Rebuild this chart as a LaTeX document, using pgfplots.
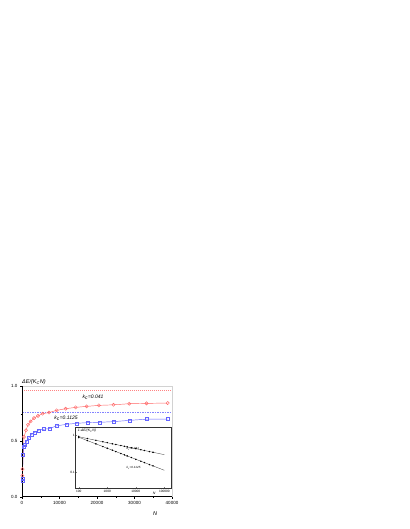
\documentclass[border=0pt]{standalone}
\usepackage{pgfplots}
\pgfplotsset{compat=1.18}
\usepackage{fontspec}
\setmainfont{Liberation Sans}
\definecolor{cred}{RGB}{255,100,100}
\definecolor{cblue}{RGB}{100,100,255}
\newcommand{\fs}[1]{\fontsize{#1}{#1}\selectfont}

\begin{document}
\begin{tikzpicture}
\useasboundingbox (0,0) rectangle (409pt,529pt);
% main panel
\begin{axis}[
  at={(22pt,32.3pt)}, anchor=south west,
  scale only axis, width=150pt, height=110.7pt,
  xmin=0, xmax=40000, ymin=0, ymax=1,
  axis line style={gray!35, line width=0.4pt},
  xtick={0,10000,20000,30000,40000}, ytick={0,0.5,1},
  minor x tick num=1, minor y tick num=1,
  tick align=outside, xtick pos=left, ytick pos=left,
  major tick length=2pt, minor tick length=1.2pt,
  tick style={black, line width=0.3pt},
  scaled ticks=false,
  /pgf/number format/assume math mode=true,
  xticklabel style={font=\fs{4.5}, /pgf/number format/set thousands separator={}},
  yticklabel style={font=\fs{4.5}, /pgf/number format/fixed,
    /pgf/number format/fixed zerofill, /pgf/number format/precision=1},
  xticklabel shift=-1pt, yticklabel shift=-1pt,
  clip=false,
]
\addplot[draw=cblue!80, dash pattern=on 1.5pt off 1pt, line width=0.5pt] coordinates {(0,0.759) (40000,0.759)};
\addplot[draw=cred!80, dash pattern=on 1pt off 1pt, line width=0.6pt] coordinates {(0,0.957) (40000,0.957)};
\addplot[color=cred, line width=0.45pt, mark=o, mark size=1.6pt] coordinates {
 (100,0.19) (150,0.25) (530,0.54) (1070,0.60) (1600,0.65) (2300,0.68)
 (3200,0.71) (4270,0.73) (5500,0.75) (7200,0.76) (9240,0.78) (11640,0.795)
 (14300,0.807) (17250,0.816) (20500,0.825) (24400,0.83) (28600,0.84)
 (33200,0.843) (38850,0.846)};
\addplot[color=cblue, line width=0.45pt, mark=square, mark size=1.5pt] coordinates {
 (100,0.14) (150,0.16) (250,0.376) (450,0.45) (800,0.467) (1240,0.50)
 (1780,0.53) (2500,0.56) (3400,0.58) (4360,0.60) (5870,0.61) (7290,0.615)
 (9240,0.64) (11900,0.654) (14580,0.663) (17400,0.669) (20600,0.672)
 (24400,0.678) (28800,0.69) (33200,0.70) (38850,0.70)};
\draw[black, line width=0.5pt] (rel axis cs:0,1) -- (rel axis cs:0,0) -- (rel axis cs:1,0);
\node[font=\fs{5}\itshape] at (axis cs:18930,0.90) {k\textsubscript{c}=0.041};
\node[font=\fs{5}\itshape] at (axis cs:11730,0.711) {k\textsubscript{c}=0.1125};
\node[anchor=south west, font=\fs{5.5}\itshape, inner sep=0pt] at ([yshift=1.5pt]rel axis cs:0,1) {ΔE/(K\textsubscript{C}N)};
\node[font=\fs{5.5}\itshape] at ([yshift=-17pt]rel axis cs:0.887,0) {N};
\end{axis}
% inset
\begin{axis}[
  at={(75.3pt,40.3pt)}, anchor=south west,
  scale only axis, width=96pt, height=61pt,
  xmode=log, ymode=log,
  xmin=76, xmax=175000, ymin=0.035, ymax=1.6,
  axis background/.style={fill=white},
  axis line style={black!80, line width=0.4pt},
  xtick={100,1000,10000,100000}, xticklabels={100,1000,10000,100000},
  ytick={0.1,1}, yticklabels={0.1,1},
  major tick length=1.5pt, minor tick length=0.8pt,
  tick style={line width=0.25pt},
  xtick pos=left, ytick pos=left,
  xticklabel style={font=\fs{3.2}}, yticklabel style={font=\fs{3.2}},
  xticklabel shift=-2pt, yticklabel shift=-3pt,
  clip=false,
]
\addplot[black!80, line width=0.3pt] coordinates {(100,0.91) (100000,0.295)};
\addplot[black!80, line width=0.3pt] coordinates {(100,0.88) (100000,0.111)};
\addplot[only marks, mark=*, mark size=0.5pt, black] coordinates {
 (100,0.93) (200,0.813) (400,0.726) (700,0.663) (1000,0.625) (1500,0.585)
 (2000,0.559) (3000,0.523) (4000,0.499) (5000,0.481) (7000,0.455)
 (10000,0.429) (15000,0.402) (20000,0.384) (30000,0.359) (40000,0.343)};
\addplot[only marks, mark=*, mark size=0.5pt, black] coordinates {
 (100,0.86) (200,0.715) (400,0.581) (700,0.491) (1000,0.441) (1500,0.391)
 (2000,0.358) (3000,0.317) (4000,0.291) (5000,0.272) (7000,0.246)
 (10000,0.221) (15000,0.196) (20000,0.180) (30000,0.159) (40000,0.146)};
\node[anchor=north west, font=\fs{3.5}\itshape, inner sep=0.5pt] at (rel axis cs:0.02,0.99) {1-ΔE/(K\textsubscript{C}N)};
\node[anchor=west, font=\fs{3}\itshape] at (axis cs:3600,0.436) {k\textsubscript{c}=0.041};
\node[anchor=west, font=\fs{3}\itshape] at (axis cs:3600,0.129) {k\textsubscript{c}=0.1125};
\node[font=\fs{3.5}\itshape] at ([yshift=-4.5pt]rel axis cs:0.82,0) {N};
\end{axis}
\end{tikzpicture}
\end{document}
